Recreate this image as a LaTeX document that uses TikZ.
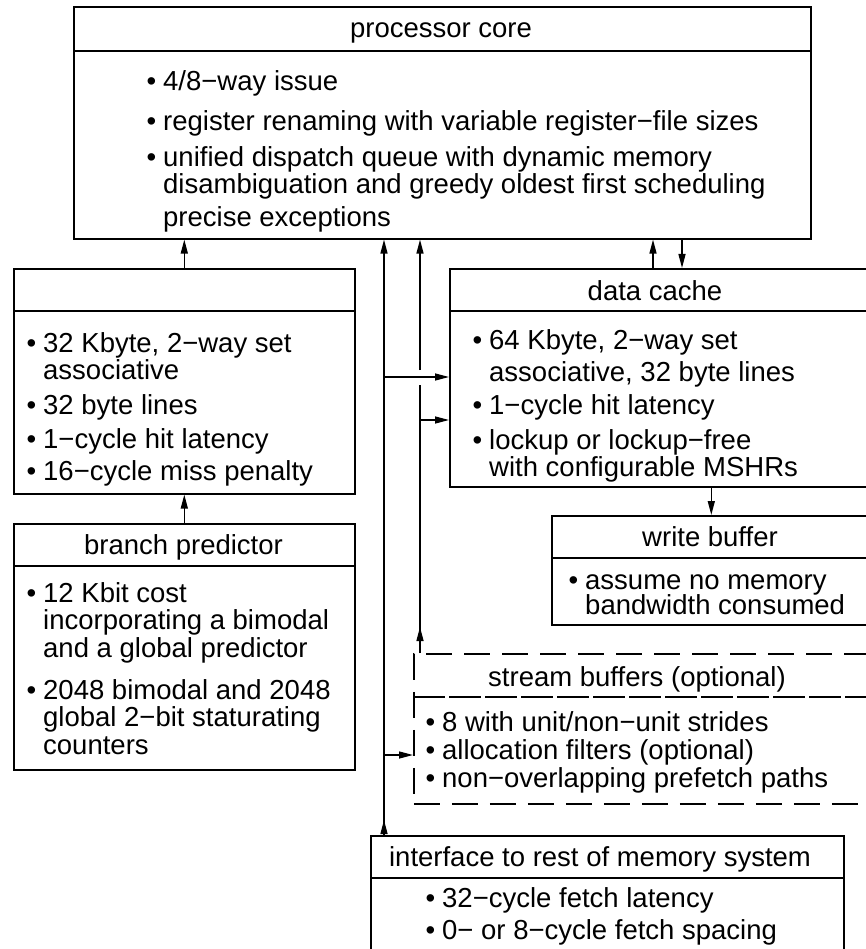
\documentclass[tikz,border=0pt]{standalone}
\usepackage{fontspec}
\setmainfont{Liberation Sans}
\usetikzlibrary{arrows.meta}
\newcommand{\bul}{\llap{•\hspace{7pt}}}
\begin{document}
\begin{tikzpicture}[x=1pt,y=-1pt,
  box/.style={draw, line width=1.6pt, inner sep=0pt, anchor=north west},
  dbox/.style={box, dash pattern=on 26pt off 12pt},
  divline/.style={line width=1.6pt},
  ddivline/.style={line width=1.6pt, dash pattern=on 32pt off 4pt},
  ln/.style={anchor=base west, inner sep=0pt, font=\fontsize{27.5}{33}\selectfont},
  hd/.style={anchor=base, inner sep=0pt, font=\fontsize{27.5}{33}\selectfont},
  conn/.style={line width=1.4pt},
  arr/.style={line width=1.4pt, -{Triangle[length=14pt,width=7pt]}}]
\useasboundingbox (0,0) rectangle (865,949);
% boxes
\node[box, minimum width=737pt, minimum height=232pt] (core) at (73,6) {};
\node[box, minimum width=341pt, minimum height=225pt] (icache) at (13,268) {};
\node[box, minimum width=341pt, minimum height=246pt] (bpred) at (13,523) {};
\node[box, minimum width=421pt, minimum height=218pt] (dcache) at (449,268) {};
\node[box, minimum width=319pt, minimum height=109pt] (wbuf) at (551,515) {};
\node[dbox, minimum width=457pt, minimum height=150pt] (sbuf) at (413,653) {};
\node[box, minimum width=473pt, minimum height=125pt] (iface) at (370,835) {};
% dividers
\coordinate (dcore) at (0,51);
\coordinate (dic) at (0,311);
\coordinate (dbp) at (0,566);
\coordinate (ddc) at (0,311);
\coordinate (dwb) at (0,558);
\coordinate (dsb) at (0,697);
\coordinate (dif) at (0,878);
\draw[divline] (core.west |- dcore) -- (core.east |- dcore);
\draw[divline] (icache.west |- dic) -- (icache.east |- dic);
\draw[divline] (bpred.west |- dbp) -- (bpred.east |- dbp);
\draw[divline] (dcache.west |- ddc) -- (dcache.east |- ddc);
\draw[divline] (wbuf.west |- dwb) -- (wbuf.east |- dwb);
\draw[ddivline] (sbuf.west |- dsb) -- (sbuf.east |- dsb);
\draw[divline] (iface.west |- dif) -- (iface.east |- dif);
% texts: processor core
\node[hd] (tcore) at (441,38) {processor core};
\node[ln] (c1) at (163,91) {\bul 4/8−way issue};
\node[ln] (c2) at (163,131) {\bul register renaming with variable register−file sizes};
\node[ln] (c3) at (163,167) {\bul unified dispatch queue with dynamic memory};
\node[ln] (c4) at (163,194) {disambiguation and greedy oldest first scheduling};
\node[ln] (c5) at (163,227) {precise exceptions};
% icache
\node[ln] (i1) at (43,352) {\bul 32 Kbyte, 2−way set};
\node[ln] (i2) at (43,379) {associative};
\node[ln] (i3) at (43,414) {\bul 32 byte lines};
\node[ln] (i4) at (43,448) {\bul 1−cycle hit latency};
\node[ln] (i5) at (43,480) {\bul 16−cycle miss penalty};
% branch predictor
\node[hd] (tbp) at (183.5,554) {branch predictor};
\node[ln] (b1) at (43,602) {\bul 12 Kbit cost};
\node[ln] (b2) at (43,629) {incorporating a bimodal};
\node[ln] (b3) at (43,657) {and a global predictor};
\node[ln] (b4) at (43,699) {\bul 2048 bimodal and 2048};
\node[ln] (b5) at (43,726) {global 2−bit staturating};
\node[ln] (b6) at (43,754) {counters};
% data cache
\node[hd] (tdc) at (655,301) {data cache};
\node[ln] (d1) at (489,349) {\bul 64 Kbyte, 2−way set};
\node[ln] (d2) at (489,381) {associative, 32 byte lines};
\node[ln] (d3) at (489,414) {\bul 1−cycle hit latency};
\node[ln] (d4) at (489,449) {\bul lockup or lockup−free};
\node[ln] (d5) at (489,476) {with configurable MSHRs};
% write buffer
\node[hd] (twb) at (710,546) {write buffer};
\node[ln] (w1) at (585,589) {\bul assume no memory};
\node[ln] (w2) at (585,614) {bandwidth consumed};
% stream buffers
\node[hd] (tsb) at (637,686) {stream buffers (optional)};
\node[ln] (s1) at (442,731) {\bul 8 with unit/non−unit strides};
\node[ln] (s2) at (442,759) {\bul allocation filters (optional)};
\node[ln] (s3) at (442,787) {\bul non−overlapping prefetch paths};
% interface
\node[hd] (tif) at (600,866) {interface to rest of memory system};
\node[ln] (f1) at (442,907) {\bul 32−cycle fetch latency};
\node[ln] (f2) at (442,939) {\bul 0− or 8−cycle fetch spacing};
% connector coordinates
\coordinate (xa) at (384,0);
\coordinate (xb) at (420,0);
\coordinate (xu) at (653,0);
\coordinate (xd) at (682,0);
\coordinate (h1) at (0,377);
\coordinate (h2) at (0,420);
\coordinate (h3) at (0,755);
\coordinate (glo) at (0,385);
\coordinate (ghi) at (0,370);
% connectors
\draw[arr] (icache.north) -- (icache.north |- core.south);
\draw[arr] (bpred.north) -- (icache.south);
\draw[arr] (dcache.north -| xu) -- (core.south -| xu);
\draw[arr] (core.south -| xd) -- (dcache.north -| xd);
\draw[arr] (dcache.south -| wbuf.north) -- (wbuf.north);
\draw[arr] (iface.north -| xa) -- ++(0,-15);
\draw[arr] (iface.north -| xa) -- (core.south -| xa);
\draw[arr] (xa |- h1) -- (dcache.west |- h1);
\draw[arr] (xa |- h3) -- (sbuf.west |- h3);
\draw[arr] (sbuf.north -| xb) -- ++(0,-26);
\draw[conn] (sbuf.north -| xb) -- (xb |- glo);
\draw[arr] (xb |- ghi) -- (core.south -| xb);
\draw[arr] (xb |- h2) -- (dcache.west |- h2);
\end{tikzpicture}
\end{document}
